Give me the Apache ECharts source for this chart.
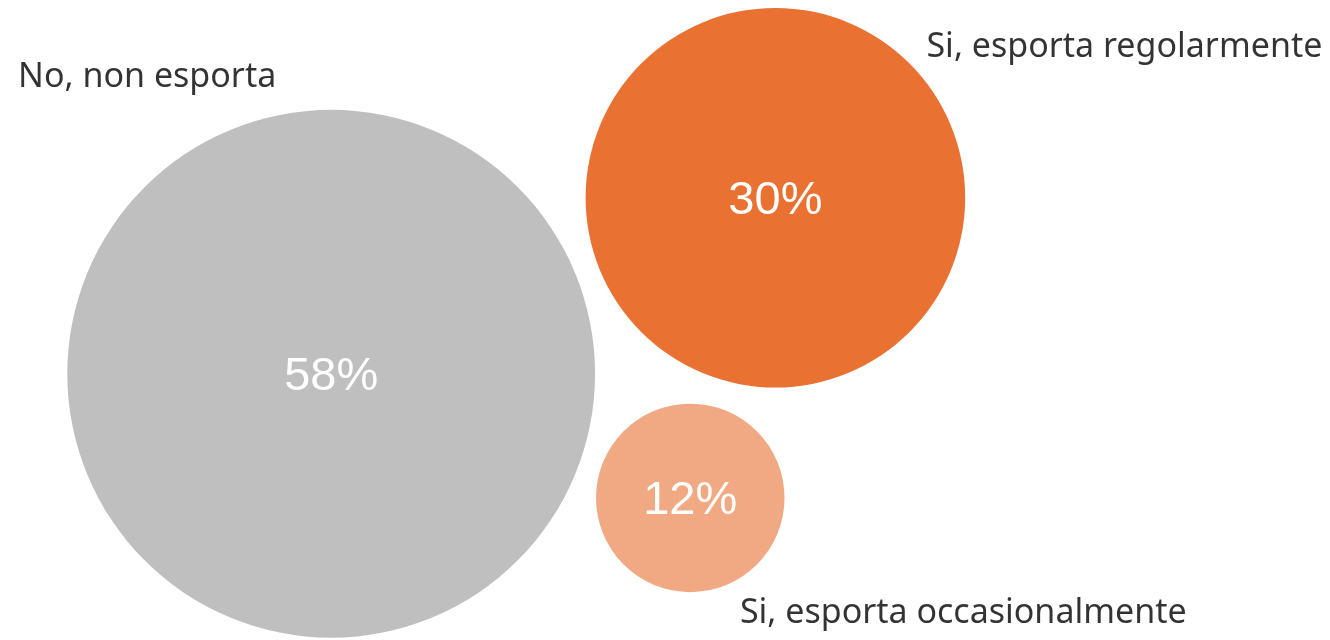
<!DOCTYPE html>
<html>
<head>
<meta charset="utf-8">
<script src="https://cdn.jsdelivr.net/npm/echarts@6/dist/echarts.min.js"></script>
<style>
  html, body { margin: 0; padding: 0; background: #fff; }
  #chart { width: 1330px; height: 640px; }
</style>
</head>
<body>
<div id="chart"></div>
<script>
// bubble data
var categories = ['No, non esporta', 'Si, esporta regolarmente', 'Si, esporta occasionalmente'];
var percents = [58, 30, 12];
var xValues = [2.49, 5.83, 5.19];
var yValues = [4.16, 6.91, 2.22];
var bubbleSizes = [58, 30, 7.4];

var colors = ['#BFBFBF', '#E97132', '#F1A983'];
// where the category name sits relative to its bubble
var nameOffsets = [[-184, -296], [349, -150], [273, 115]];

var chart = echarts.init(document.getElementById('chart'));

function diameter(size) {
    return 69.3 * Math.sqrt(size);
}

var bubbleData = categories.map(function (c, i) {
    return {
        name: c,
        value: [xValues[i], yValues[i], bubbleSizes[i], percents[i]],
        itemStyle: { color: colors[i], opacity: 1 }
    };
});

var nameData = categories.map(function (c, i) {
    return {
        name: c,
        value: [xValues[i], yValues[i], bubbleSizes[i]],
        label: { offset: nameOffsets[i] }
    };
});

var option = {
    animation: false,
    grid: { left: 0, right: 0, top: 0, bottom: 0 },
    xAxis: { type: 'value', min: 0, max: 10, show: false },
    yAxis: { type: 'value', min: 0, max: 10, show: false },
    series: [
        {
            type: 'scatter',
            data: bubbleData,
            symbolSize: function (v) { return diameter(v[2]); },
            label: {
                show: true,
                position: 'inside',
                offset: [0, 3],
                formatter: function (p) { return p.value[3] + '%'; },
                color: '#fff',
                fontSize: 47,
                fontFamily: 'Liberation Sans, Arial, sans-serif'
            },
            emphasis: { disabled: true }
        },
        {
            type: 'scatter',
            data: nameData,
            symbolSize: 1,
            itemStyle: { color: 'rgba(0,0,0,0)' },
            label: {
                show: true,
                position: 'inside',
                formatter: '{b}',
                color: '#000000',
                fontSize: 34,
                fontFamily: 'Noto Sans, sans-serif'
            },
            silent: true
        }
    ]
};

chart.setOption(option);

window.onresize = function () {
    chart.resize();
};
</script>
</body>
</html>
